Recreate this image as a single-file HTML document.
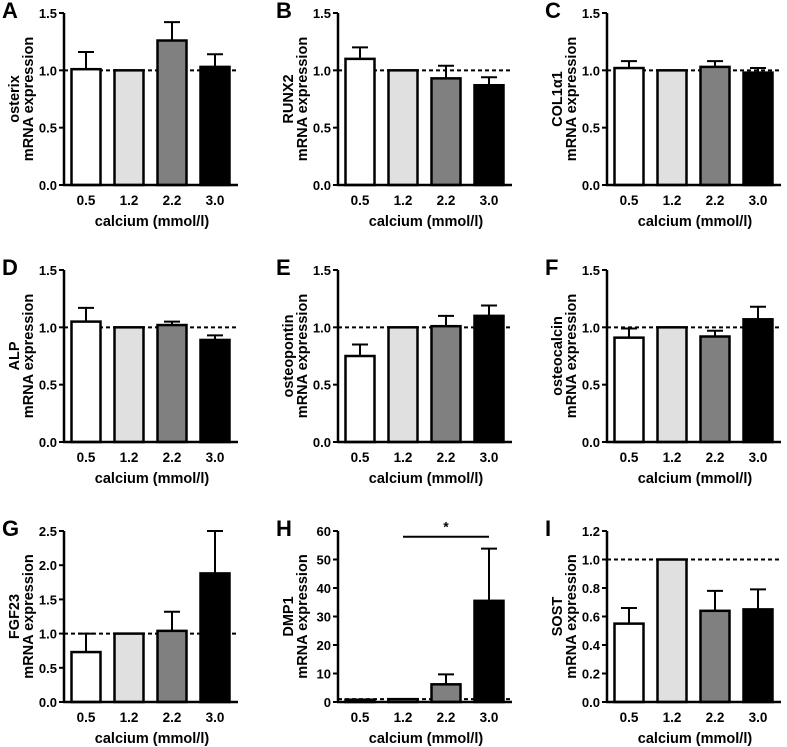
<!DOCTYPE html>
<html><head><meta charset="utf-8"><style>
body{margin:0;background:#fff;}
svg{display:block;font-family:"Liberation Sans",Arial,sans-serif;font-weight:bold;}
</style></head><body>
<svg id="fig" width="787" height="747" viewBox="0 0 787 747" xmlns="http://www.w3.org/2000/svg"></svg>
<script>
const categories = ["0.5","1.2","2.2","3.0"];
const panelLetters = ["A","B","C","D","E","F","G","H","I"];
const geneNames = ["osterix","RUNX2","COL1\u03b11","ALP","osteopontin","osteocalcin","FGF23","DMP1","SOST"];
const valsA = [1.01,1.0,1.26,1.03], errA = [0.15,0,0.16,0.11];
const valsB = [1.10,1.0,0.93,0.87], errB = [0.10,0,0.11,0.07];
const valsC = [1.02,1.0,1.03,0.98], errC = [0.06,0,0.05,0.04];
const valsD = [1.05,1.0,1.02,0.89], errD = [0.12,0,0.03,0.04];
const valsE = [0.75,1.0,1.01,1.10], errE = [0.10,0,0.09,0.09];
const valsF = [0.91,1.0,0.92,1.07], errF = [0.08,0,0.05,0.11];
const valsG = [0.73,1.0,1.04,1.88], errG = [0.27,0,0.28,0.62];
const valsH = [0.8,1.0,6.2,35.5], errH = [0,0,3.5,18.3];
const valsI = [0.55,1.0,0.64,0.65], errI = [0.11,0,0.14,0.14];
const ticksStd = ["0.0","0.5","1.0","1.5"];
const ticksG = ["0.0","0.5","1.0","1.5","2.0","2.5"];
const ticksH = ["0","10","20","30","40","50","60"];
const ticksI = ["0.0","0.2","0.4","0.6","0.8","1.0","1.2"];
const allVals = [valsA,valsB,valsC,valsD,valsE,valsF,valsG,valsH,valsI];
const allErr = [errA,errB,errC,errD,errE,errF,errG,errH,errI];
const allTicks = [ticksStd,ticksStd,ticksStd,ticksStd,ticksStd,ticksStd,ticksG,ticksH,ticksI];
const reference = 1.0;
const sigFrom = 1, sigTo = 3, sigLevel = 58;

const fills = ["#ffffff","#e0e0e0","#808080","#000000"];
const NS = "http://www.w3.org/2000/svg";
const svg = document.getElementById("fig");
function mk(tag, attrs, parent){const e=document.createElementNS(NS,tag);for(const k in attrs)e.setAttribute(k,attrs[k]);(parent||svg).appendChild(e);return e;}

const colX = [64,338,607];
const rowTop = [13,270,531], rowBot = [185,442,702];
const axisLen = 174;

for(let p=0;p<9;p++){
  const c=p%3, r=Math.floor(p/3);
  const x0=colX[c], yT=rowTop[r], yB=rowBot[r];
  const ticks=allTicks[p];
  const tmin=parseFloat(ticks[0]), tmax=parseFloat(ticks[ticks.length-1]);
  const y=v=>yB-(v-tmin)/(tmax-tmin)*(yB-yT);
  const xc=i=>x0+22+i*43;
  const g=mk("g",{});
  
  
  const L=mk("text",{x:x0-62,y:yT+5,"font-size":"22"},g);L.textContent=panelLetters[p];
  
  
  const dl=mk("line",{x1:x0,x2:x0+axisLen,y1:y(reference),y2:y(reference),stroke:"#000","stroke-width":2,"stroke-dasharray":"4,3"},g);
  
  
  const vals=allVals[p], errs=allErr[p];
  for(let i=0;i<4;i++){
    if(errs[i]>0){
      const e=mk("path",{d:`M${xc(i)},${y(vals[i])} V${y(vals[i]+errs[i])} M${xc(i)-8},${y(vals[i]+errs[i])} H${xc(i)+8}`,stroke:"#000","stroke-width":2,fill:"none"},g);
      
      
    }
    const b=mk("rect",{x:xc(i)-14.5,y:y(vals[i]),width:29,height:yB-y(vals[i]),fill:fills[i],stroke:"#000","stroke-width":2.5},g);
    
    
    const t=mk("text",{x:xc(i),y:yB+20,"text-anchor":"middle","font-size":"13.5"},g);t.textContent=categories[i];
    
    
  }
  mk("line",{x1:x0,x2:x0,y1:yT,y2:yB,stroke:"#000","stroke-width":2.5},g);
  mk("line",{x1:x0-1,x2:x0+axisLen,y1:yB,y2:yB,stroke:"#000","stroke-width":2.5},g);
  ticks.forEach(tk=>{
    const v=parseFloat(tk);
    mk("line",{x1:x0-5,x2:x0,y1:y(v),y2:y(v),stroke:"#000","stroke-width":2},g);
    const t=mk("text",{x:x0-7,y:y(v)+5,"text-anchor":"end","font-size":"13"},g);t.textContent=tk;
    
    
  });
  const xl=mk("text",{x:x0+88,y:yB+41,"text-anchor":"middle","font-size":"14.5"},g);xl.textContent="calcium (mmol/l)";
  
  
  const ym=(yT+yB)/2;
  const yl=mk("text",{transform:`translate(${x0-31},${ym}) rotate(-90)`,"text-anchor":"middle","font-size":"14.5"},g);
  
  
  const s1=mk("tspan",{x:0,y:-14},yl);s1.textContent=geneNames[p];
  const s2=mk("tspan",{x:0,y:0},yl);s2.textContent="mRNA expression";
  if(p===7){
    const sl=mk("line",{x1:xc(sigFrom),x2:xc(sigTo),y1:y(sigLevel),y2:y(sigLevel),stroke:"#000","stroke-width":2},g);
    
    
    const st=mk("text",{x:(xc(sigFrom)+xc(sigTo))/2,y:y(sigLevel)-5,"text-anchor":"middle","font-size":"14"},g);st.textContent="*";
    
    
  }
}
</script>
</body></html>
